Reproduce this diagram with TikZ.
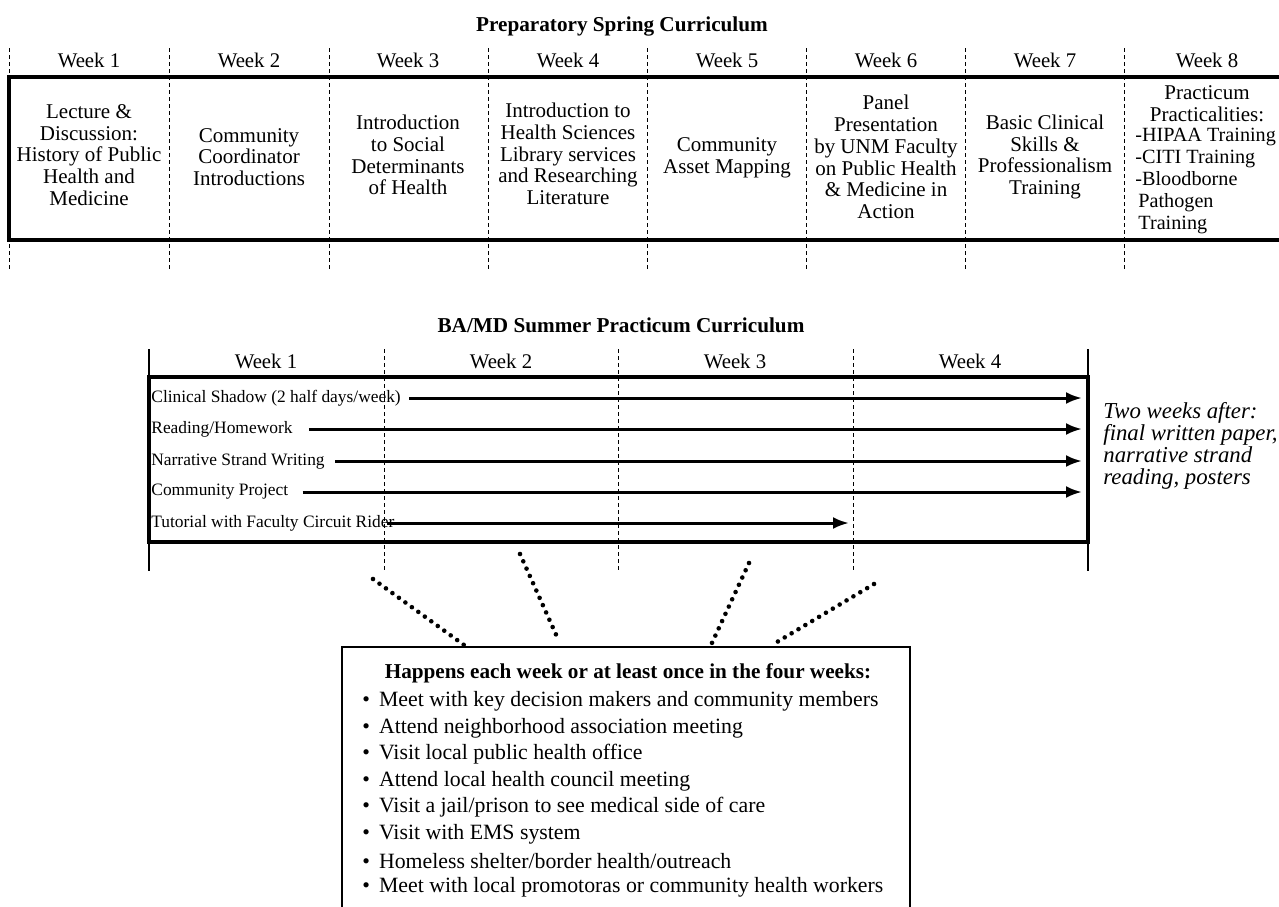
\documentclass[tikz,border=0pt]{standalone}
\usepackage{fontspec}
\setmainfont{Liberation Serif}
\usetikzlibrary{arrows.meta}

\begin{document}
\begin{tikzpicture}[x=0.5pt,y=-0.5pt,
    wkline/.style={line width=0.5pt, dash pattern=on 2pt off 1.5pt},
    frame/.style={line width=1.8pt},
    title/.style={font=\fontsize{10.6}{12}\selectfont\bfseries},
    wk/.style={font=\fontsize{10.4}{11}\selectfont},
    cell/.style={align=center, inner sep=0pt, font=\fontsize{10.5}{10.9}\selectfont},
    row/.style={anchor=west, inner sep=1pt, font=\fontsize{8.7}{10}\selectfont},
    span/.style={line width=1.5pt, -{Latex[length=8pt,width=6pt]}},
    dots/.style={line width=2.3pt, line cap=round, dash pattern=on 0pt off 4pt},
    item/.style={anchor=west, inner sep=0pt, font=\fontsize{10.9}{12}\selectfont}]
  \useasboundingbox (0,0) rectangle (1279,906);

  \node[title] (spring) at (622,26) {Preparatory Spring Curriculum};
  \draw[wkline] (9,48) -- (9,270);
  \draw[wkline] (169,48) -- (169,270);
  \draw[wkline] (329,48) -- (329,270);
  \draw[wkline] (488,48) -- (488,270);
  \draw[wkline] (647,48) -- (647,270);
  \draw[wkline] (806,48) -- (806,270);
  \draw[wkline] (965,48) -- (965,270);
  \draw[wkline] (1124,48) -- (1124,270);
  \draw[frame] (1290,77) -- (9,77) -- (9,240) -- (1290,240);

  \node[wk] (sw1) at (89,60) {Week 1};
  \node[wk] (sw2) at (249,60) {Week 2};
  \node[wk] (sw3) at (408,60) {Week 3};
  \node[wk] (sw4) at (568,60) {Week 4};
  \node[wk] (sw5) at (727,60) {Week 5};
  \node[wk] (sw6) at (886,60) {Week 6};
  \node[wk] (sw7) at (1045,60) {Week 7};
  \node[wk] (sw8) at (1207,60) {Week 8};

  \node[cell] (sc1) at (89,155) {Lecture \&\\Discussion:\\History of Public\\Health and\\Medicine};
  \node[cell] (sc2) at (249,157) {Community\\Coordinator\\Introductions};
  \node[cell] (sc3) at (408,155) {Introduction\\to Social\\Determinants\\of Health};
  \node[cell] (sc4) at (568,154) {Introduction to\\Health Sciences\\Library services\\and Researching\\Literature};
  \node[cell] (sc5) at (727,158) {Community\\Asset Mapping};
  \node[cell] (sc6) at (886,157) {Panel\\Presentation\\by UNM Faculty\\on Public Health\\\& Medicine in\\Action};
  \node[cell] (sc7) at (1045,157) {Basic Clinical\\Skills \&\\Professionalism\\Training};
  \node[cell] (sc8) at (1207,104) {Practicum\\Practicalities:};
  \node[cell, align=left, anchor=west, font=\fontsize{10.1}{10.9}\selectfont] (sc8b) at (1135,181) {-HIPAA Training\\-CITI Training\\-Bloodborne\\\hspace{1.5pt}Pathogen\\\hspace{1.5pt}Training};

  \node[title] (summer) at (621,325) {BA/MD Summer Practicum Curriculum};
  \draw[line width=0.6pt] (149,349) -- (149,571);
  \draw[wkline] (384,349) -- (384,571);
  \draw[wkline] (618,349) -- (618,571);
  \draw[wkline] (853,349) -- (853,571);
  \draw[line width=0.6pt] (1088,349) -- (1088,571);
  \draw[frame] (149,377) rectangle (1088,542);

  \node[wk] (mw1) at (266,361) {Week 1};
  \node[wk] (mw2) at (501,361) {Week 2};
  \node[wk] (mw3) at (735,361) {Week 3};
  \node[wk] (mw4) at (970,361) {Week 4};

  \node[row] (shadow) at (149,398) {Clinical Shadow (2 half days/week)};
  \node[row] (reading) at (149,429) {Reading/Homework};
  \node[row] (narrative) at (149,461) {Narrative Strand Writing};
  \node[row] (project) at (149,492) {Community Project};
  \node[row] (tutorial) at (149,523) {Tutorial with Faculty Circuit Rider};
  \coordinate (shadowend) at (1082,398);
  \coordinate (readingend) at (1082,429);
  \coordinate (narrativeend) at (1082,461);
  \coordinate (projectend) at (1082,492);
  \coordinate (tutorialend) at (849,523);
  \draw[span] ([xshift=3pt]shadow.east) -- (shadowend);
  \draw[span] ([xshift=7pt]reading.east) -- (readingend);
  \draw[span] ([xshift=4pt]narrative.east) -- (narrativeend);
  \draw[span] ([xshift=6pt]project.east) -- (projectend);
  \draw[span] ([xshift=-5pt]tutorial.east) -- (tutorialend);

  \node[align=left, anchor=west, inner sep=0pt, font=\fontsize{11.4}{11}\selectfont\itshape] (after) at (1103,446) {Two weeks after:\\final written paper,\\narrative strand\\reading, posters};

  \draw[line width=0.75pt] (342,912) -- (342,647) -- (910,647) -- (910,912);
  \coordinate (d1a) at (373,579);
  \coordinate (d1b) at (464,645);
  \coordinate (d2a) at (520,554);
  \coordinate (d2b) at (558,639);
  \coordinate (d3a) at (749,563);
  \coordinate (d3b) at (711,645);
  \coordinate (d4a) at (874,584);
  \coordinate (d4b) at (772,645);
  \draw[dots] (d1a) -- (d1b);
  \draw[dots] (d2a) -- (d2b);
  \draw[dots] (d3a) -- (d3b);
  \draw[dots] (d4a) -- (d4b);

  \node[title] (happens) at (628,673) {Happens each week or at least once in the four weeks:};
  \node[item] (it1) at (362,701) {•\hspace{4.5pt}Meet with key decision makers and community members};
  \node[item] (it2) at (362,728) {•\hspace{4.5pt}Attend neighborhood association meeting};
  \node[item] (it3) at (362,754) {•\hspace{4.5pt}Visit local public health office};
  \node[item] (it4) at (362,781) {•\hspace{4.5pt}Attend local health council meeting};
  \node[item] (it5) at (362,807) {•\hspace{4.5pt}Visit a jail/prison to see medical side of care};
  \node[item] (it6) at (362,834) {•\hspace{4.5pt}Visit with EMS system};
  \node[item] (it7) at (362,861) {•\hspace{4.5pt}Homeless shelter/border health/outreach};
  \node[item] (it8) at (362,887) {•\hspace{4.5pt}Meet with local promotoras or community health workers};
\end{tikzpicture}
\end{document}
